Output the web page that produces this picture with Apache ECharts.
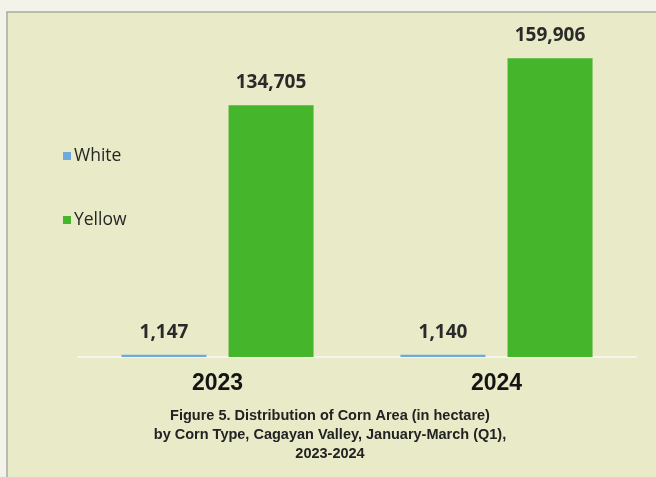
<!DOCTYPE html>
<html>
<head>
<meta charset="utf-8">
<script src="https://cdn.jsdelivr.net/npm/echarts@6/dist/echarts.min.js"></script>
<style>
  html, body { margin: 0; padding: 0; background: #f3f3ea; }
  #chart { width: 656px; height: 477px; }
</style>
</head>
<body>
<div id="chart"></div>
<script>
const years = ['2023', '2024'];
const white = [1147, 1140];
const yellow = [134705, 159906];
const caption = 'Figure 5. Distribution of Corn Area (in hectare)\nby Corn Type, Cagayan Valley, January-March (Q1),\n2023-2024';

const chart = echarts.init(document.getElementById('chart'));

const labelStyle = {
  show: true,
  position: 'top',
  distance: 13,
  fontFamily: 'Open Sans',
  fontWeight: 'bold',
  fontSize: 19,
  color: '#2a2a2a',
  formatter: p => p.value.toLocaleString('en-US')
};

const options = {
  backgroundColor: '#f3f3ea',
  graphic: [
    {
      type: 'rect',
      z: -10,
      shape: { x: 7, y: 12, width: 660, height: 480 },
      style: { fill: '#e8eac8', stroke: '#a8aaa0', lineWidth: 1.5 }
    },
    {
      type: 'text',
      x: 330,
      y: 406,
      style: {
        text: caption,
        fontFamily: 'Liberation Sans',
        fontWeight: 'bold',
        fontSize: 14.5,
        lineHeight: 19,
        align: 'center',
        fill: '#222'
      }
    }
  ],
  legend: {
    orient: 'vertical',
    left: 58,
    top: 142,
    itemGap: 46,
    itemWidth: 8,
    itemHeight: 8,
    icon: 'rect',
    data: ['White', 'Yellow'],
    textStyle: { fontFamily: 'Open Sans', fontSize: 17.5, color: '#262626', padding: [0, 0, 0, -2] }
  },
  grid: { left: 78, right: 20, top: 58, bottom: 120 },
  xAxis: {
    type: 'category',
    data: years,
    axisTick: { show: false },
    axisLine: { lineStyle: { color: '#f5f5ee', width: 2 } },
    axisLabel: {
      margin: 15,
      fontFamily: 'Liberation Sans',
      fontWeight: 'bold',
      fontSize: 23,
      color: '#151515'
    }
  },
  yAxis: {
    type: 'value',
    min: 0,
    max: 160000,
    show: false
  },
  series: [
    {
      name: 'White',
      type: 'bar',
      data: white,
      barWidth: 85,
      barGap: '26%',
      itemStyle: { color: '#6fa8dc' },
      label: labelStyle
    },
    {
      name: 'Yellow',
      type: 'bar',
      data: yellow,
      barWidth: 85,
      itemStyle: { color: '#45b52c' },
      label: labelStyle
    }
  ]
};

chart.setOption(options);
</script>
</body>
</html>
